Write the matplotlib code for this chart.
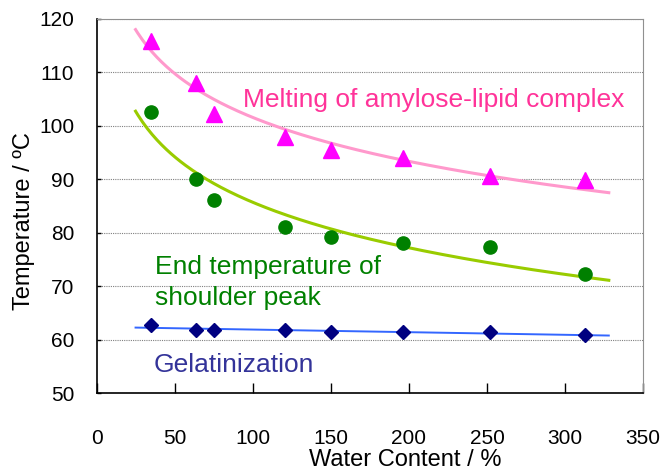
import numpy as np
import matplotlib
matplotlib.use("Agg")
import matplotlib.pyplot as plt

plt.rcParams['font.family'] = ['Liberation Sans', 'DejaVu Sans']

# water content (%) of the samples
water = [35, 64, 75, 121, 150, 196, 252, 313]
# melting of amylose-lipid complex
melting = [115.9, 108.0, 102.2, 98.0, 95.5, 94.0, 90.7, 89.9]
# end temperature of shoulder peak
shoulder = [102.6, 90.0, 86.1, 81.0, 79.3, 78.0, 77.3, 72.3]
# gelatinization
gelat = [62.7, 61.8, 61.8, 61.8, 61.5, 61.4, 61.4, 60.8]

trend_range = [25, 328]
xticks = [0, 50, 100, 150, 200, 250, 300, 350]
yticks = [50, 60, 70, 80, 90, 100, 110, 120]


def log_fit(x, y, xs):
    # excel style log trendline: y = a + b * ln(x)
    b, a = np.polyfit(np.log(x), y, 1)
    return a + b * np.log(xs)


def lin_fit(x, y, xs):
    m, c = np.polyfit(x, y, 1)
    return m * xs + c


fig = plt.figure(figsize=(6.61, 4.72), dpi=100)
ax = fig.add_axes([0.146, 0.167, 0.827, 0.793])

xs = np.linspace(trend_range[0], trend_range[1], 200)
ax.plot(xs, log_fit(water, melting, xs), color='#FF99CC', lw=2.2, zorder=2)
ax.plot(xs, log_fit(water, shoulder, xs), color='#99CC00', lw=2.2, zorder=2)
ax.plot(xs, lin_fit(water, gelat, xs), color='#3366FF', lw=1.4, zorder=2)

ax.plot(water, melting, '^', color='#FF00FF', ms=11, ls='none', zorder=3)
ax.plot(water, shoulder, 'o', color='#008000', ms=9.5, ls='none', zorder=3)
ax.plot(water, gelat, 'D', color='#000080', ms=7.5, ls='none', zorder=3)

ax.text(94, 104.8, 'Melting of amylose-lipid complex', color='#FF3399',
        fontsize=19, va='center', ha='left')
ax.text(37.3, 70.7, 'End temperature of\nshoulder peak', color='#008000',
        fontsize=19, va='center', ha='left', linespacing=1.35)
ax.text(36.7, 55.2, 'Gelatinization', color='#333399',
        fontsize=19, va='center', ha='left')

ax.set_xlim(0, 350)
ax.set_ylim(50, 120)
ax.set_xticks(xticks)
ax.set_yticks(yticks)
ax.tick_params(axis='x', direction='in', length=7, width=1, pad=26, labelsize=15)
ax.tick_params(axis='y', direction='in', length=3, width=1, pad=16, labelsize=15)

ax.grid(axis='y', color='#808080', ls=(0, (1, 1)), lw=0.8)
ax.set_axisbelow(True)
for s in ['top', 'right']:
    ax.spines[s].set_color('#909090')
for s in ['left', 'bottom']:
    ax.spines[s].set_color('black')
    ax.spines[s].set_linewidth(1.2)

ax.set_xlabel('Water Content / %', fontsize=17, va='bottom')
ax.xaxis.set_label_coords(0.5645, -0.2086)
ax.set_ylabel('Temperature / ºC', fontsize=17, va='center')
ax.yaxis.set_label_coords(-0.132, 0.4586)

fig.savefig('out.png', dpi=100)
